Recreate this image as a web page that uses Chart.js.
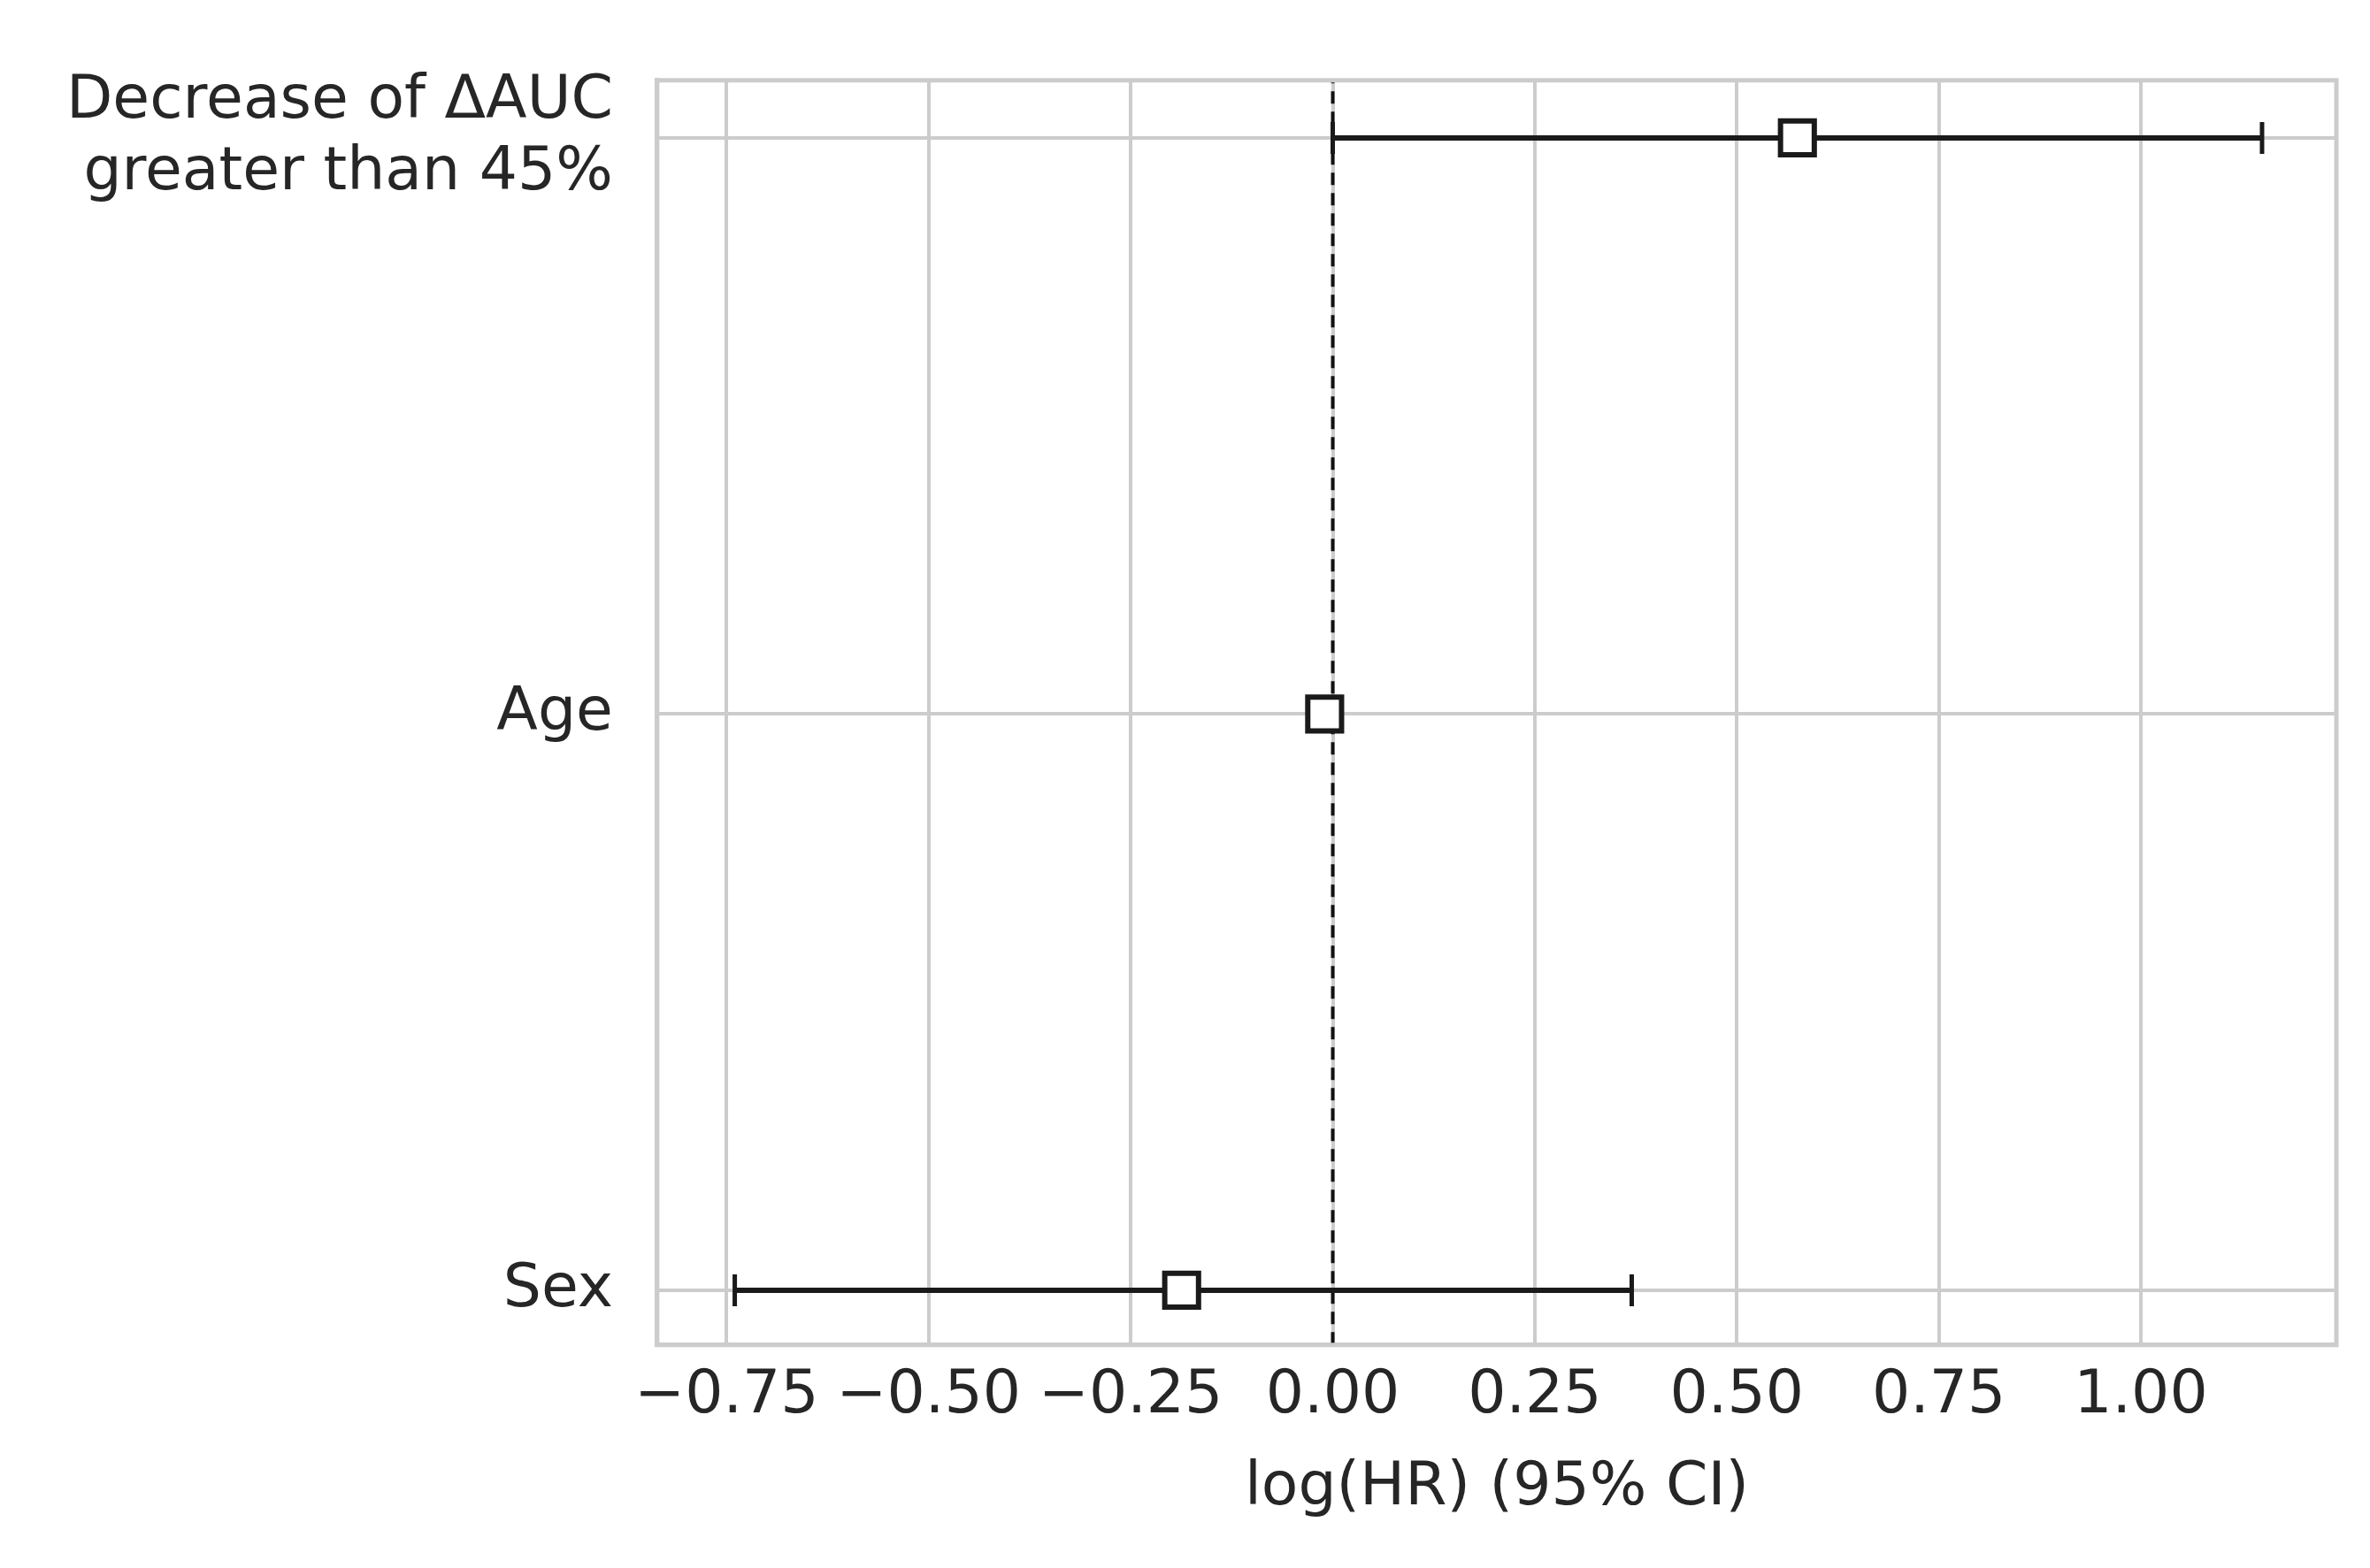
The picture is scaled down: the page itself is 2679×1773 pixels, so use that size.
<!DOCTYPE html>
<html>
<head>
<meta charset="utf-8">
<script src="https://cdn.jsdelivr.net/npm/chart.js@4"></script>
<style>
  html, body { margin: 0; padding: 0; background: #fff; }
  #wrap { width: 2679px; height: 1773px; }
</style>
</head>
<body>
<div id="wrap"><canvas id="forest"></canvas></div>
<script>
// Данні з рисунка (log(HR) та 95% ДІ)
const covariates = [["Decrease of ΔAUC", "greater than 45%"], "Age", "Sex"];
const rowPos = [2, 1, 0];
const logHR = [0.575, -0.01, -0.187];
const ciLow = [0.0, -0.025, -0.74];
const ciHigh = [1.15, 0.005, 0.37];
const xTicks = [-0.75, -0.5, -0.25, 0, 0.25, 0.5, 0.75, 1.0];

const FONT = "'DejaVu Sans', sans-serif";
const TXT = "#262626";

const datasets = [];

// лінії довірчих інтервалів з "шапками"
covariates.forEach(function (c, i) {
    if (i === 1) return; // для Age інтервал ховається під маркером
    datasets.push({
        type: "line",
        data: [{ x: ciLow[i], y: rowPos[i] }, { x: ciHigh[i], y: rowPos[i] }],
        borderColor: "#1a1a1a",
        borderWidth: 6,
        pointStyle: "line",
        rotation: 90,
        pointRadius: 18,
        pointBorderWidth: 5,
        pointBorderColor: "#1a1a1a",
        order: 2
    });
});

// вертикальна пунктирна лінія на нулі
datasets.push({
    type: "line",
    data: [{ x: 0, y: -0.2 }, { x: 0, y: 2.3 }],
    borderColor: "#111",
    borderWidth: 4,
    borderDash: [14, 9],
    pointRadius: 0,
    order: 3
});

// квадратні маркери
datasets.push({
    type: "scatter",
    data: logHR.map(function (v, i) { return { x: v, y: rowPos[i] }; }),
    pointStyle: "rect",
    pointRadius: 27,
    pointBackgroundColor: "#fff",
    pointBorderColor: "#1a1a1a",
    pointBorderWidth: 6,
    order: 1
});

new Chart(document.getElementById("forest"), {
    type: "scatter",
    data: { datasets: datasets },
    options: {
        responsive: true,
        maintainAspectRatio: false,
        animation: false,
        layout: { padding: { top: 60, right: 38, bottom: 45, left: 25 } },
        plugins: { legend: { display: false }, tooltip: { enabled: false } },
        scales: {
            x: {
                type: "linear",
                min: -0.836,
                max: 1.242,
                afterBuildTicks: function (axis) {
                    axis.ticks = xTicks.map(function (v) { return { value: v }; });
                },
                ticks: {
                    color: TXT,
                    font: { family: FONT, size: 68 },
                    padding: 18,
                    callback: function (v) { return v.toFixed(2).replace("-", "\u2212"); }
                },
                grid: { color: "#cccccc", lineWidth: 4, drawTicks: false },
                border: { color: "#cccccc", width: 5 },
                title: {
                    display: true,
                    text: "log(HR) (95% CI)",
                    color: TXT,
                    font: { family: FONT, size: 68 },
                    padding: { top: 4 }
                }
            },
            y: {
                type: "linear",
                min: -0.095,
                max: 2.1,
                afterBuildTicks: function (axis) {
                    axis.ticks = rowPos.map(function (v) { return { value: v }; });
                },
                ticks: {
                    color: TXT,
                    font: { family: FONT, size: 68 },
                    padding: 50,
                    callback: function (v) { return covariates[rowPos.indexOf(v)]; }
                },
                grid: { color: "#cccccc", lineWidth: 4, drawTicks: false },
                border: { color: "#cccccc", width: 5 }
            }
        }
    },
    plugins: [{
        id: "frame",
        afterDraw: function (chart) {
            const a = chart.chartArea, ctx = chart.ctx;
            ctx.save();
            ctx.strokeStyle = "#cccccc";
            ctx.lineWidth = 5;
            ctx.strokeRect(a.left, a.top, a.right - a.left, a.bottom - a.top);
            ctx.restore();
        }
    }]
});
</script>
</body>
</html>
